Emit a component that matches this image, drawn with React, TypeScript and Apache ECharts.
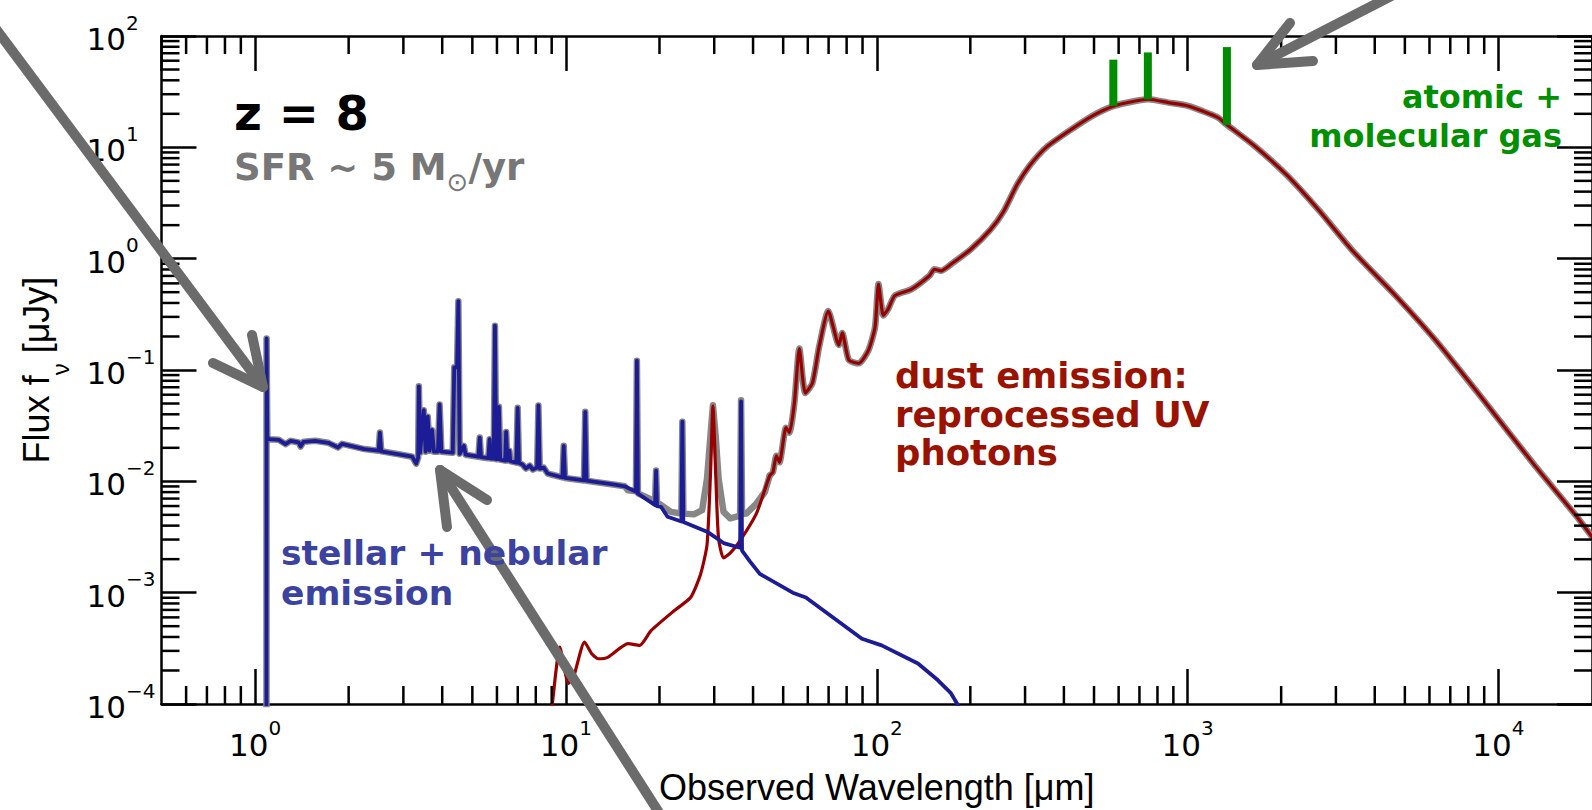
import React, { useEffect, useRef } from "react";
import * as echarts from "echarts";

// ---------- axis ranges ----------
const X_MIN = 0.5;
const X_MAX = 20000;
const Y_MIN = 1e-4;
const Y_MAX = 100;

// ---------- stellar + nebular emission (blue) : wavelength [um], flux [uJy] ----------
const stellarWavelength = [
  1.088, 1.089, 1.095, 1.108, 1.192, 1.252, 1.302, 1.38, 1.401, 1.432, 1.56, 1.72, 1.85, 1.905,
  2.249, 2.497, 2.521, 2.547, 2.871, 3.203, 3.298, 3.347, 3.365, 3.396, 3.49, 3.536, 3.594, 3.641,
  3.709, 3.763, 3.875, 3.923, 3.976, 4.325, 4.373, 4.464, 4.508, 4.552, 4.698, 4.757, 5.231, 5.281,
  5.332, 5.629, 5.683, 5.738, 5.857, 5.912, 5.968, 6.035, 6.088, 6.147, 6.376, 6.422, 6.48, 6.579,
  6.622, 6.929, 6.995, 7.063, 7.255, 7.433, 7.653, 7.825, 8.081, 8.158, 8.237, 8.481, 8.733, 9.038,
  9.748, 9.84, 9.934, 11.43, 11.54, 11.65, 14.37, 15.46, 16.8, 16.92, 17.05, 19.36, 19.5, 19.64,
  20.23, 21.23, 23.52, 23.69, 23.87, 28.45, 32.16, 36.34, 36.6, 36.87, 39.08, 42.05, 53.67, 59.16,
  89.6, 103.7, 135.7, 157.1, 173.2, 189.1,
];
const stellarFlux = [
  0.00001, 0.1919, 0.02512, 0.02393, 0.0236, 0.02158, 0.02312, 0.02234, 0.02056, 0.02265, 0.02312,
  0.02218, 0.02014, 0.02173, 0.0195, 0.01884, 0.02742, 0.01862, 0.01758, 0.01663, 0.01442, 0.01633,
  0.07129, 0.01807, 0.04355, 0.01845, 0.03802, 0.01884, 0.02897, 0.01845, 0.01845, 0.04898, 0.01845,
  0.01807, 0.1057, 0.1057, 0.415, 0.0177, 0.02084, 0.01734, 0.01663, 0.02472, 0.01648, 0.01614,
  0.02393, 0.01603, 0.016, 0.25, 0.01581, 0.01581, 0.04667, 0.01567, 0.01535, 0.0278, 0.01535,
  0.01884, 0.01517, 0.01472, 0.04571, 0.01459, 0.01413, 0.01303, 0.01384, 0.01276, 0.0133, 0.04797,
  0.01303, 0.0133, 0.01175, 0.01146, 0.01084, 0.02084, 0.01072, 0.01019, 0.04207, 0.01014, 0.00933,
  0.00902, 0.00805, 0.1213, 0.00776, 0.00611, 0.0125, 0.00598, 0.0059, 0.00481, 0.00436, 0.03428,
  0.00432, 0.00353, 0.00279, 0.00253, 0.05236, 0.00238, 0.00191, 0.001476, 0.001, 0.000904, 0.000385,
  0.000336, 0.000231, 0.000164, 0.000125, 0.0000828,
];

// ---------- dust emission (red) ----------
const dustWavelength = [
  8.79, 9.04, 9.27, 9.55, 10.19, 10.59, 11.48, 12.11, 12.71, 13.68, 15.84, 17.26, 18.79, 22.28, 25.18,
  27.1, 28.44, 29.17, 29.72, 30.34, 30.97, 32.14, 33.88, 36.31, 41.02, 45.25, 46.34, 47.53, 48.64,
  51.05, 52.36, 54.33, 56.36, 58.88, 62.09, 65.26, 69.82, 75.51, 77.45, 81.28, 87.5, 94.1, 98.76,
  101.3, 105.0, 108.9, 114.3, 129.1, 147.7, 153.2, 161.0, 173.2, 200.4, 232.2, 255.9, 282.3, 311.1,
  351.6, 416.9, 494.3, 579.4, 679.2, 748.2, 867.0, 1004, 1250, 1329, 1636, 2087, 2665, 3401, 4667,
  6260, 9016, 13020, 17700, 21730,
];
const dustFlux = [
  6.76e-5, 1.0e-4, 1.88e-4, 3.24e-4, 1.53e-4, 1.76e-4, 3.6e-4, 2.83e-4, 2.55e-4, 2.64e-4, 3.48e-4,
  3.36e-4, 4.56e-4, 6.87e-4, 9.04e-4, 1.455e-3, 2.69e-3, 0.01127, 0.0473, 0.01127, 3.1e-3, 2.05e-3,
  2.29e-3, 2.92e-3, 5.15e-3, 0.01127, 0.01208, 0.01698, 0.01483, 0.03034, 0.02738, 0.0506, 0.156,
  0.0621, 0.0762, 0.1618, 0.338, 0.1675, 0.2153, 0.123, 0.1148, 0.151, 0.2434, 0.591, 0.3093, 0.354,
  0.4656, 0.53, 0.7015, 0.8035, 0.778, 0.8898, 1.21, 1.823, 2.655, 4.581, 6.897, 10.05, 14.13, 19.19,
  23.55, 26.1, 27.04, 25.23, 23.55, 18.58, 16.18, 10.39, 5.62, 2.655, 1.171, 0.4656, 0.1866, 0.0525,
  0.01413, 0.00498, 0.002333,
];

// ---------- total (grey) where stellar and dust overlap ----------
const totalGapWavelength = [
  15.84, 16.8, 16.92, 17.05, 19.36, 19.5, 19.64, 21.77, 23.52, 23.69, 23.87, 25.81, 27.43, 28.44,
  29.17, 29.72, 30.32, 30.99, 32.14, 33.78, 35.44, 36.34, 36.6, 36.87, 38.11, 41.02, 43.65,
];
const totalGapFlux = [
  0.0083, 0.00813, 0.1213, 0.0078, 0.00662, 0.0125, 0.00649, 0.00532, 0.00515, 0.03428, 0.00515,
  0.00505, 0.00551, 0.01054, 0.02559, 0.0483, 0.02559, 0.01054, 0.00532, 0.00465, 0.00481, 0.00498,
  0.0535, 0.00508, 0.00515, 0.00632, 0.00802,
];

// ---------- atomic + molecular gas lines (green) ----------
const gasLineWavelength = [577, 745, 1338];
const gasLineLow = [23.6, 27.0, 15.9];
const gasLineHigh = [61.3, 71.2, 79.5];

// ---------- minor ticks ----------
const xMinorTicks = [
  0.6, 0.7, 0.8, 0.9, 2, 3, 4, 5, 6, 7, 8, 9, 20, 30, 40, 50, 60, 70, 80, 90, 200, 300, 400, 500, 600,
  700, 800, 900, 2000, 3000, 4000, 5000, 6000, 7000, 8000, 9000,
];
const yMinorTicks = [
  2e-4, 3e-4, 4e-4, 5e-4, 6e-4, 7e-4, 8e-4, 9e-4, 2e-3, 3e-3, 4e-3, 5e-3, 6e-3, 7e-3, 8e-3, 9e-3,
  0.02, 0.03, 0.04, 0.05, 0.06, 0.07, 0.08, 0.09, 0.2, 0.3, 0.4, 0.5, 0.6, 0.7, 0.8, 0.9, 2, 3, 4, 5,
  6, 7, 8, 9, 20, 30, 40, 50, 60, 70, 80, 90,
];

const ARROW = "#6b6b6b";
const FONT = "DejaVu Sans";

function pairs(xs: number[], ys: number[]) {
  return xs.map((x, i) => [x, ys[i]]);
}

function expLabel(v: number) {
  const e = Math.round(Math.log10(v));
  const s = e < 0 ? "\u2212" + Math.abs(e) : String(e);
  return `{b|10}{s|${s}}`;
}

export default function App() {
  const ref = useRef<HTMLDivElement>(null);

  useEffect(() => {
    if (!ref.current) return;
    const chart = echarts.init(ref.current, null, { renderer: "svg" });

    const stellar = pairs(stellarWavelength, stellarFlux);
    const dust = pairs(dustWavelength, dustFlux);
    const gap = pairs(totalGapWavelength, totalGapFlux);
    const dustTail = dust.filter((p) => p[0] >= 45);
    const totalLow = [...stellar.filter((p) => p[0] <= 15.5), ...gap, dustTail[0]];
    const gas = gasLineWavelength.map((w, i) => [w, gasLineLow[i], gasLineHigh[i]]);

    const labelRich = {
      b: { fontFamily: FONT, fontSize: 31, color: "#000", lineHeight: 42, verticalAlign: "bottom" },
      s: { fontFamily: FONT, fontSize: 20, color: "#000", verticalAlign: "top" },
    };
    const lineCol = { color: "#000", width: 2.5 };
    const baseAxis = {
      type: "log",
      logBase: 10,
      splitLine: { show: false },
      minorTick: { show: false },
      axisLine: { show: true, onZero: false, lineStyle: lineCol },
      axisTick: { show: true, inside: true, length: 35, lineStyle: lineCol },
    };
    const tickStyle = { stroke: "#000", lineWidth: 2.5 };

    const arrowLine = (x1: number, y1: number, x2: number, y2: number) => ({
      type: "line",
      z: 100,
      shape: { x1, y1, x2, y2 },
      style: { stroke: ARROW, lineWidth: 10, lineCap: "round" },
    });
    const arrowHead = (pts: number[][]) => ({
      type: "polyline",
      z: 100,
      shape: { points: pts },
      style: { stroke: ARROW, lineWidth: 10, lineCap: "round", lineJoin: "round", fill: null },
    });

    chart.setOption({
      animation: false,
      backgroundColor: "#fff",
      textStyle: { fontFamily: FONT },
      grid: { left: 161.5, right: -17, top: 36, bottom: 99.3, containLabel: false },
      xAxis: [
        {
          ...baseAxis,
          position: "bottom",
          min: X_MIN,
          max: X_MAX,
          axisLabel: {
            show: true,
            margin: 14,
            formatter: expLabel,
            rich: labelRich,
            showMinLabel: false,
            showMaxLabel: false,
          },
          name: "Observed Wavelength [\u03bcm]",
          nameLocation: "middle",
          nameGap: 65,
          nameTextStyle: { fontFamily: "Liberation Sans", fontSize: 36, color: "#000" },
        },
        {
          ...baseAxis,
          position: "top",
          min: X_MIN,
          max: X_MAX,
          axisLabel: { show: false },
        },
      ],
      yAxis: [
        {
          ...baseAxis,
          position: "left",
          min: Y_MIN,
          max: Y_MAX,
          axisLabel: {
            show: true,
            align: "left",
            margin: 75,
            formatter: expLabel,
            rich: labelRich,
            padding: [0, 0, 5, 0],
          },
          name: "{a|Flux f}{s|\u03bd}{a| [\u03bcJy]}",
          nameLocation: "middle",
          nameRotate: 90,
          nameGap: 89,
          nameTextStyle: {
            rich: {
              a: { fontFamily: "Liberation Sans", fontSize: 36, color: "#000", lineHeight: 36, verticalAlign: "top" },
              s: { fontFamily: "Liberation Sans", fontSize: 24, color: "#000", lineHeight: 54, verticalAlign: "bottom" },
            },
          },
        },
        {
          ...baseAxis,
          position: "right",
          min: Y_MIN,
          max: Y_MAX,
          axisLabel: { show: false },
        },
      ],
      series: [
        {
          type: "line",
          name: "total (stellar side)",
          data: totalLow,
          symbol: "none",
          silent: true,
          z: 2,
          lineStyle: { color: "#878787", width: 6.5, cap: "round", join: "round" },
        },
        {
          type: "line",
          name: "total (dust side)",
          data: dustTail,
          symbol: "none",
          silent: true,
          smooth: 0.2,
          z: 2,
          lineStyle: { color: "#878787", width: 6.5, cap: "round", join: "round" },
        },
        {
          type: "line",
          name: "dust emission",
          data: dust,
          symbol: "none",
          silent: true,
          smooth: 0.2,
          z: 3,
          lineStyle: { color: "#990000", width: 3.2, join: "round" },
        },
        {
          type: "line",
          name: "stellar + nebular",
          data: stellar,
          symbol: "none",
          silent: true,
          z: 4,
          lineStyle: { color: "#1c1c96", width: 3.8, join: "round" },
        },
        {
          type: "custom",
          name: "gas lines",
          data: gas,
          encode: { x: 0, y: [1, 2] },
          silent: true,
          z: 5,
          renderItem: (_p: any, api: any) => {
            const lo = api.coord([api.value(0), api.value(1)]);
            const hi = api.coord([api.value(0), api.value(2)]);
            return {
              type: "line",
              shape: { x1: lo[0], y1: lo[1], x2: hi[0], y2: hi[1] },
              style: { stroke: "#008c00", lineWidth: 8 },
            };
          },
        },
        {
          type: "custom",
          name: "x minor ticks",
          data: xMinorTicks.map((v) => [v, Y_MIN]),
          silent: true,
          z: 6,
          renderItem: (_p: any, api: any) => {
            const v = api.value(0);
            const b = api.coord([v, Y_MIN]);
            const t = api.coord([v, Y_MAX]);
            return {
              type: "group",
              children: [
                { type: "line", shape: { x1: b[0], y1: b[1], x2: b[0], y2: b[1] - 18 }, style: tickStyle },
                { type: "line", shape: { x1: t[0], y1: t[1], x2: t[0], y2: t[1] + 18 }, style: tickStyle },
              ],
            };
          },
        },
        {
          type: "custom",
          name: "y minor ticks",
          data: yMinorTicks.map((v) => [X_MIN, v]),
          silent: true,
          z: 6,
          renderItem: (_p: any, api: any) => {
            const v = api.value(1);
            const l = api.coord([X_MIN, v]);
            const r = api.coord([X_MAX, v]);
            return {
              type: "group",
              children: [
                { type: "line", shape: { x1: l[0], y1: l[1], x2: l[0] + 18, y2: l[1] }, style: tickStyle },
                { type: "line", shape: { x1: r[0], y1: r[1], x2: r[0] - 18, y2: r[1] }, style: tickStyle },
              ],
            };
          },
        },
      ],
      graphic: {
        elements: [
          // arrows
          arrowLine(-33, -10, 263, 387),
          arrowHead([[252, 335], [263, 387], [213, 363]]),
          arrowLine(440, 470, 665, 822),
          arrowHead([[447, 527], [440, 470], [487, 500]]),
          arrowLine(1257, 65, 1403, -10),
          arrowHead([[1290, 23], [1257, 65], [1313, 61]]),
          // texts
          {
            type: "text",
            z: 101,
            x: 234,
            y: 113.4,
            style: {
              text: "z = 8",
              fontFamily: FONT,
              fontSize: 48,
              fontWeight: "bold",
              fill: "#000",
              align: "left",
              verticalAlign: "middle",
            },
          },
          {
            type: "text",
            z: 101,
            x: 234,
            y: 149.4,
            style: {
              text: "{a|SFR ~ 5 M}{s|\u2299}{a|/yr}",
              align: "left",
              verticalAlign: "top",
              rich: {
                a: { fontFamily: FONT, fontSize: 37, fontWeight: "bold", fill: "#777777", color: "#777777", lineHeight: 38, verticalAlign: "top" },
                s: { fontFamily: FONT, fontSize: 26, fill: "#777777", color: "#777777", lineHeight: 46, verticalAlign: "bottom" },
              },
            },
          },
          {
            type: "text",
            z: 101,
            x: 281,
            y: 533,
            style: {
              text: "stellar + nebular\nemission",
              fontFamily: FONT,
              fontSize: 34.5,
              fontWeight: "bold",
              lineHeight: 40,
              fill: "#3c42a0",
              align: "left",
              verticalAlign: "top",
            },
          },
          {
            type: "text",
            z: 101,
            x: 895,
            y: 356.5,
            style: {
              text: "dust emission:\nreprocessed UV\nphotons",
              fontFamily: FONT,
              fontSize: 35.5,
              fontWeight: "bold",
              lineHeight: 38.5,
              fill: "#9a1200",
              align: "left",
              verticalAlign: "top",
            },
          },
          {
            type: "text",
            z: 101,
            x: 1562,
            y: 78,
            style: {
              text: "atomic +\nmolecular gas",
              fontFamily: FONT,
              fontSize: 32,
              fontWeight: "bold",
              lineHeight: 38.4,
              fill: "#009000",
              align: "right",
              verticalAlign: "top",
            },
          },
        ],
      },
    });

    return () => chart.dispose();
  }, []);

  return (
    <div
      ref={ref}
      style={{ position: "absolute", left: 0, top: 0, width: 1592, height: 810, background: "#fff" }}
    />
  );
}
